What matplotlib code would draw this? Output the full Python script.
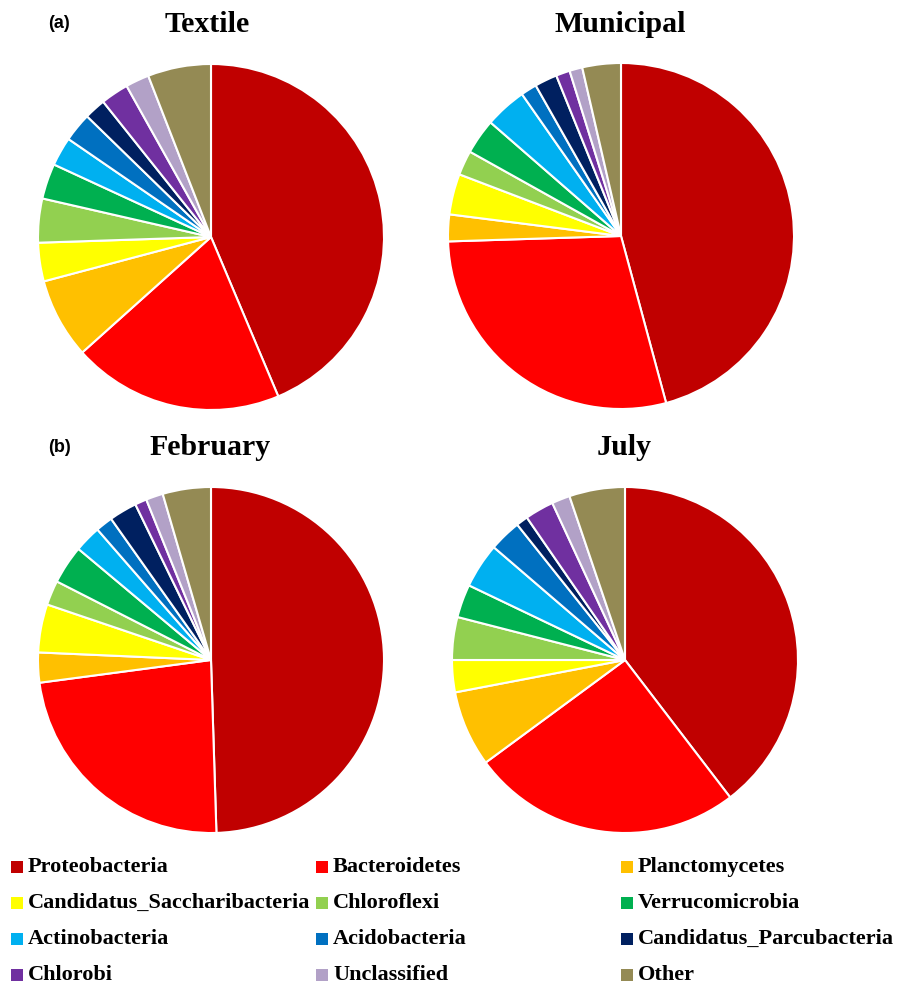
import matplotlib
matplotlib.use("Agg")
import matplotlib.pyplot as plt
from matplotlib.patches import Rectangle

phyla = ['Proteobacteria', 'Bacteroidetes', 'Planctomycetes',
         'Candidatus_Saccharibacteria', 'Chloroflexi', 'Verrucomicrobia',
         'Actinobacteria', 'Acidobacteria', 'Candidatus_Parcubacteria',
         'Chlorobi', 'Unclassified', 'Other']
colors = ['#C00000', '#FF0000', '#FFC000', '#FFFF00', '#92D050', '#00B050',
          '#00B0F0', '#0070C0', '#002060', '#7030A0', '#B2A1C7', '#948A54']

# relative abundance (%) of each phylum
textile = [43.6, 19.7, 7.5, 3.6, 4.1, 3.3, 2.7, 2.7, 2.0, 2.6, 2.2, 5.9]
municipal = [45.8, 28.7, 2.5, 3.8, 2.3, 3.3, 3.9, 1.5, 2.1, 1.3, 1.2, 3.6]
february = [49.5, 23.4, 2.8, 4.5, 2.3, 3.6, 2.5, 1.6, 2.6, 1.1, 1.6, 4.5]
july = [39.6, 25.3, 7.1, 3.0, 4.0, 3.1, 4.2, 3.0, 1.1, 2.7, 1.7, 5.2]

W, H = 897, 984
fig = plt.figure(figsize=(W / 100, H / 100), dpi=100)

serif = ['Liberation Serif', 'DejaVu Serif']
sans = ['Liberation Sans', 'DejaVu Sans']

def px_axes(left, top, size):
    return fig.add_axes([left / W, 1 - (top + size) / H, size / W, size / H])

panels = [
    (textile, 'Textile', 38, 64, 207, 24),
    (municipal, 'Municipal', 448, 63, 620, 24),
    (february, 'February', 38, 487, 210, 447),
    (july, 'July', 452, 487, 624, 447),
]

for vals, title, left, top, tx, ty in panels:
    ax = px_axes(left, top, 346)
    ax.pie(vals, colors=colors, startangle=90, counterclock=False,
           wedgeprops=dict(edgecolor='white', linewidth=1.5))
    ax.set_xlim(-1, 1)
    ax.set_ylim(-1, 1)
    ax.set_aspect('equal')
    ax.axis('off')
    fig.text(tx / W, 1 - ty / H, title, family=serif, fontweight='bold',
             fontsize=21.5, ha='center', va='center')

fig.text(48 / W, 1 - 23 / H, '(a)', family=sans, fontweight='bold',
         fontsize=13, ha='left', va='center')
fig.text(48 / W, 1 - 447 / H, '(b)', family=sans, fontweight='bold',
         fontsize=13, ha='left', va='center')

# legend laid out row by row in three columns
col_x = [11, 316, 621]
row_y = [867, 903, 939, 975]
for i, (name, c) in enumerate(zip(phyla, colors)):
    x = col_x[i % 3]
    y = row_y[i // 3]
    fig.patches.append(Rectangle((x / W, 1 - (y + 6) / H), 12 / W, 12 / H,
                                 facecolor=c, edgecolor='none',
                                 transform=fig.transFigure, figure=fig))
    fig.text((x + 17) / W, 1 - y / H, name, family=serif, fontweight='bold',
             fontsize=16, ha='left', va='center')

fig.savefig('out.png', dpi=100)
